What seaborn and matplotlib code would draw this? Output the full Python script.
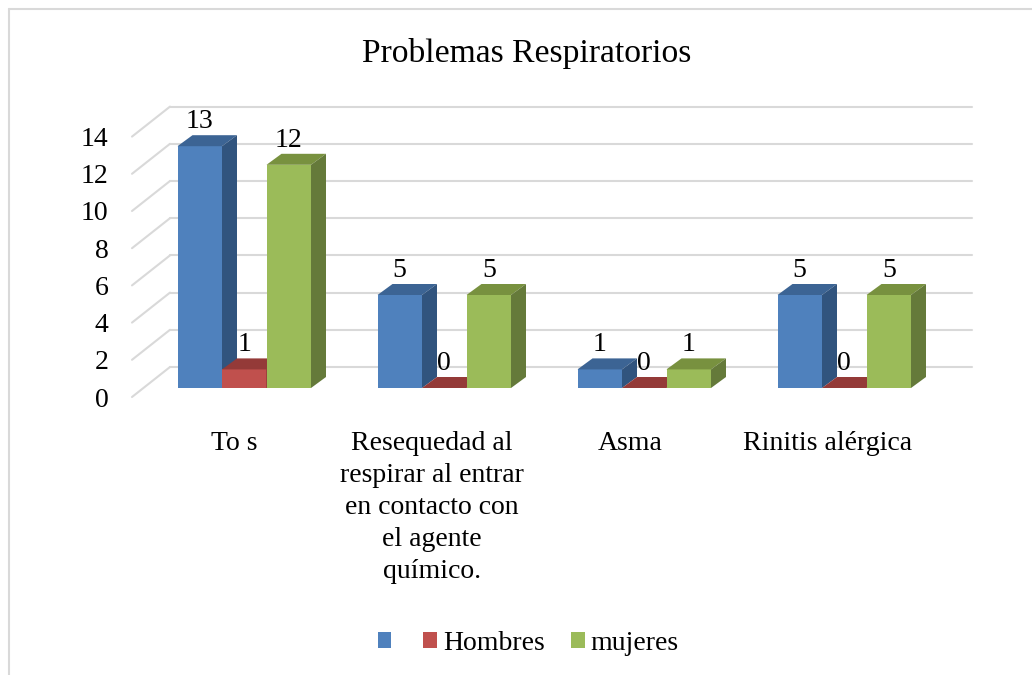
import matplotlib
matplotlib.use('Agg')
import matplotlib.pyplot as plt
from matplotlib.lines import Line2D
from matplotlib.patches import Patch
import pandas as pd
import seaborn as sns

# Data
categories = ['To s', 'Resequedad al\nrespirar al entrar\nen contacto con\nel agente\nquímico.', 'Asma', 'Rinitis alérgica']
series_names = ['', 'Hombres', 'mujeres']
sin_nombre = [13, 5, 1, 5]
hombres = [1, 0, 0, 0]
mujeres = [12, 5, 1, 5]
y_ticks = [0, 2, 4, 6, 8, 10, 12, 14]

# Colours: front, top, side
front_colors = ['#4F81BD', '#C0504D', '#9BBB59']
top_colors = ['#3C6494', '#943A38', '#78913F']
side_colors = ['#31547E', '#7D312F', '#657A3A']
grid_color = '#D9D9D9'

# Pixel geometry of the picture
FIG_W, FIG_H = 1032, 675
PX_X = 200.0    # pixels per category
PX_Y = 18.6     # pixels per unit of value
ZERO_X, ZERO_Y = 244.25, 388.0
BOX_L, BOX_R, BOX_T, BOX_B = 132, 972, 107, 397

# Depth of the bars and of the floor, in data units
bar_dx, bar_dy = 15 / PX_X, 11 / PX_Y
front_y = (ZERO_Y - BOX_B) / PX_Y
back_y = (ZERO_Y - 367) / PX_Y
wall_dx = 38 / PX_X

sns.set_style('white')
plt.rcParams['font.family'] = ['Liberation Serif', 'DejaVu Serif']
FONT = 20

df = pd.DataFrame({
    'categoria': categories * 3,
    'serie': [s for s in series_names for _ in categories],
    'valor': sin_nombre + hombres + mujeres,
})

fig = plt.figure(figsize=(FIG_W / 100, FIG_H / 100), dpi=100)
ax = fig.add_axes([BOX_L / FIG_W, 1 - BOX_B / FIG_H, (BOX_R - BOX_L) / FIG_W, (BOX_B - BOX_T) / FIG_H])

sns.barplot(data=df, x='categoria', y='valor', hue='serie', order=categories, hue_order=series_names,
            palette=dict(zip(series_names, front_colors)), saturation=1, width=0.6675, gap=0,
            dodge=True, legend=False, ax=ax)

# Paint left to right so each bar hides the side of the previous one
for i, container in enumerate(ax.containers):
    for bar in container:
        x0 = bar.get_x()
        x1 = x0 + bar.get_width()
        h = bar.get_height()
        bar.set_zorder(4 + i)
        bar.set_linewidth(0)
        ax.fill([x0, x1, x1 + bar_dx, x0 + bar_dx], [h, h, h + bar_dy, h + bar_dy],
                color=top_colors[i], lw=0, zorder=4 + i, clip_on=False)
        ax.fill([x1, x1 + bar_dx, x1 + bar_dx, x1], [0, bar_dy, h + bar_dy, h],
                color=side_colors[i], lw=0, zorder=4 + i, clip_on=False)
        ax.text((x0 + x1) / 2, h + bar_dy + 7 / PX_Y, str(int(h)), ha='center', va='baseline',
                fontsize=FONT, color='black', zorder=10)

# Back wall and floor lines
x_left = (BOX_L - ZERO_X) / PX_X
x_right = (BOX_R - ZERO_X) / PX_X
for v in y_ticks:
    ax.plot([x_left + wall_dx, x_right], [v + back_y, v + back_y], color=grid_color, lw=1.5, zorder=1, clip_on=False)
    ax.plot([x_left, x_left + wall_dx], [v + front_y, v + back_y], color=grid_color, lw=1.5, zorder=1, clip_on=False)

ax.set_xlim(x_left, x_right)
ax.set_ylim(front_y, (ZERO_Y - BOX_T) / PX_Y)
# labels sit on the front of the floor, slightly tighter than the bars
ax.set_xticks([(i * 198 - 10.25) / PX_X for i in range(len(categories))], categories, linespacing=1.37)
ax.set_yticks([v + front_y for v in y_ticks], [str(v) for v in y_ticks])
ax.tick_params(axis='x', length=0, pad=24.5, labelsize=FONT, labelcolor='black')
ax.tick_params(axis='y', length=0, pad=17, labelsize=FONT, labelcolor='black')
ax.set_xlabel('')
ax.set_ylabel('')
sns.despine(ax=ax, left=True, bottom=True)
ax.patch.set_alpha(0)

ax.set_title('Problemas Respiratorios', fontsize=24.2, color='black', x=(527 - BOX_L) / (BOX_R - BOX_L), pad=32.5)

handles = [Patch(color=c, lw=0) for c in front_colors]
leg = ax.legend(handles, series_names, loc='center', bbox_to_anchor=(528 / FIG_W, 1 - 643.5 / FIG_H),
                bbox_transform=fig.transFigure, ncols=3, frameon=False, fontsize=FONT,
                handlelength=0.5, handleheight=0.5, handletextpad=0.2, columnspacing=0.95, labelcolor='black')

# Outer frame, open at the right and bottom
fig.add_artist(Line2D([9 / FIG_W, 9 / FIG_W], [0, 1 - 8.5 / FIG_H], color=grid_color, lw=1.5))
fig.add_artist(Line2D([9 / FIG_W, 1], [1 - 8.5 / FIG_H, 1 - 8.5 / FIG_H], color=grid_color, lw=1.5))

fig.savefig('out.png', dpi=100)
